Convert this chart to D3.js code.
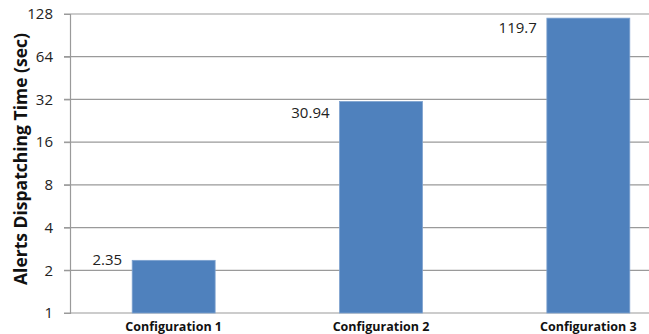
<!DOCTYPE html>
<html>
<head>
<meta charset="utf-8">
<script src="https://cdn.jsdelivr.net/npm/d3@7"></script>
<style>
  body { margin: 0; background: #fff; }
  svg { display: block; font-family: "Open Sans", sans-serif; }
</style>
</head>
<body>
<div id="wrap"></div>
<script>
// data
const categories = ["Configuration 1", "Configuration 2", "Configuration 3"];
const values = [2.35, 30.94, 119.7];
const valueLabels = ["2.35", "30.94", "119.7"];
const yTicks = [1, 2, 4, 8, 16, 32, 64, 128];

const width = 649;
const height = 334;
// 标签相对柱顶的偏移（原图里第一个标签被挪到了网格线上方）
const labelDy = [5, 16, 15];
const svg = d3.select("#wrap")
  .append("svg")
  .attr("width", width)
  .attr("height", height);

// 比例尺
const xScale = d3.scaleBand()
  .domain(categories)
  .range([70, 692])
  .paddingInner(0.6)
  .paddingOuter(0.3);
const yScale = d3.scaleLog()
  .base(2)
  .domain([1, 128])
  .range([313, 14]);

// 网格线
svg.append("g")
  .selectAll("line")
  .data(yTicks)
  .enter()
  .append("line")
  .attr("x1", 64)
  .attr("x2", width)
  .attr("y1", d => yScale(d))
  .attr("y2", d => yScale(d))
  .attr("stroke", "#9a9a9a")
  .attr("stroke-width", 1.2);

// y轴
const yAxis = d3.axisLeft(yScale)
  .tickValues(yTicks)
  .tickFormat(d3.format("d"))
  .tickSize(6)
  .tickPadding(11);
const gY = svg.append("g").attr("transform", "translate(70,0)");
yAxis(gY);
gY.select(".domain").attr("stroke", "#9a9a9a").attr("stroke-width", 1.2);
gY.selectAll(".tick line").attr("stroke", "#9a9a9a");
gY.selectAll(".tick text")
  .attr("font-family", "Open Sans, sans-serif")
  .attr("font-size", 15)
  .attr("fill", "#222");

// 柱子
svg.append("g")
  .selectAll("rect")
  .data(values)
  .enter()
  .append("rect")
  .attr("x", (d, i) => xScale(categories[i]))
  .attr("y", d => yScale(d))
  .attr("width", xScale.bandwidth())
  .attr("height", d => yScale(1) - yScale(d))
  .attr("fill", "#4f81bd")
  .attr("stroke", "#7da2cf")
  .attr("stroke-width", 0.8);

// 数值标签
svg.append("g")
  .selectAll("text")
  .data(values)
  .enter()
  .append("text")
  .attr("x", (d, i) => xScale(categories[i]) - 10)
  .attr("y", (d, i) => yScale(d) + labelDy[i])
  .attr("text-anchor", "end")
  .attr("font-size", 15)
  .attr("fill", "#222")
  .text((d, i) => valueLabels[i]);

// x轴标签
svg.append("g")
  .selectAll("text")
  .data(categories)
  .enter()
  .append("text")
  .attr("x", d => xScale(d) + xScale.bandwidth() / 2)
  .attr("y", 331)
  .attr("text-anchor", "middle")
  .attr("font-size", 12.5)
  .attr("font-weight", "bold")
  .attr("fill", "#111")
  .text(d => d);

// y轴标题
svg.append("text")
  .attr("transform", "translate(27,159) rotate(-90)")
  .attr("text-anchor", "middle")
  .attr("font-size", 17.5)
  .attr("font-weight", "bold")
  .attr("fill", "#111")
  .text("Alerts Dispatching Time (sec)");
</script>
</body>
</html>
